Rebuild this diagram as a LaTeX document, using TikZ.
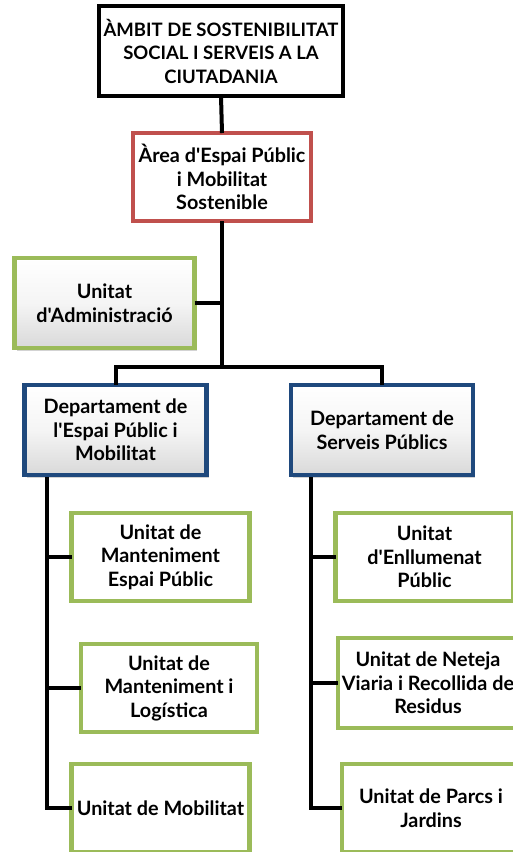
\documentclass[tikz,border=0pt]{standalone}
\usepackage{fontspec}
\setmainfont{Lato}[Ligatures=TeXOff]
\usetikzlibrary{shadows}
\definecolor{redb}{HTML}{C0504D}
\definecolor{greenb}{HTML}{9BBB59}
\definecolor{blueb}{HTML}{1F497D}
\tikzset{
  box/.style={rectangle, line width=4.5pt, align=center, inner sep=1pt, outer sep=0pt,
    font=\fontsize{19.8}{23.5}\selectfont\bfseries, text=black, fill=white},
  topbox/.style={box, draw=black, font=\fontsize{18.5}{23.5}\selectfont\bfseries,
    drop shadow={shadow xshift=2pt, shadow yshift=-2pt, opacity=0.3}},
  areabox/.style={box, draw=redb},
  gradbox/.style={box, top color=white, bottom color=black!15, middle color=white!96!black,
    drop shadow={shadow xshift=2pt, shadow yshift=-3pt, opacity=0.35}},
  adminbox/.style={gradbox, draw=greenb},
  deptbox/.style={gradbox, draw=blueb},
  unitbox/.style={box, draw=greenb},
  conn/.style={line width=4pt, draw=black}
}
\begin{document}
\begin{tikzpicture}[x=1pt,y=-1pt]
\useasboundingbox (0,0) rectangle (513,852);
% nodes
\node[topbox, minimum width=244pt, minimum height=90pt] (top) at (221,51) {ÀMBIT DE SOSTENIBILITAT\\SOCIAL I SERVEIS A LA\\CIUTADANIA};
\node[areabox, minimum width=178pt, minimum height=88pt] (area) at (222,177) {Àrea d'Espai Públic\\i Mobilitat\\Sostenible};
\node[adminbox, minimum width=180pt, minimum height=90pt] (admin) at (104.5,303) {Unitat\\d'Administració};
\node[deptbox, minimum width=182pt, minimum height=90pt] (dleft) at (115.5,430) {Departament de\\l'Espai Públic i\\Mobilitat};
\node[deptbox, minimum width=182pt, minimum height=90pt] (dright) at (382,430) {Departament de\\Serveis Públics};
\node[unitbox, minimum width=178pt, minimum height=88pt] (L1) at (160.5,557) {Unitat de\\Manteniment\\Espai Públic};
\node[unitbox, minimum width=176pt, minimum height=88pt] (L2) at (169,688) {Unitat de\\Manteniment i\\Logística};
\node[unitbox, minimum width=178pt, minimum height=88pt] (L3) at (160.5,808) {Unitat de Mobilitat};
\node[unitbox, minimum width=178pt, minimum height=88pt] (R1) at (424.5,557) {Unitat\\d'Enllumenat\\Públic};
\node[unitbox, minimum width=180pt, minimum height=90pt] (R2) at (428,683) {Unitat de Neteja\\Viaria i Recollida de\\Residus};
\node[unitbox, minimum width=178pt, minimum height=88pt] (R3) at (431,808) {Unitat de Parcs i\\Jardins};
% helper coordinates
\coordinate (bar) at (222,367);
\coordinate (spl) at (47,477);
\coordinate (spr) at (311,477);
% connectors
\draw[conn] (top.south) -- (area.north);
\draw[conn] (area.south) -- (bar);
\draw[conn] (admin.east) -- (admin.east -| bar);
\draw[conn] (dleft.north) |- (bar) -| (dright.north);
\draw[conn] (spl) |- (L3.west);
\draw[conn] (L1.west -| spl) -- (L1.west);
\draw[conn] (L2.west -| spl) -- (L2.west);
\draw[conn] (spr) |- (R3.west);
\draw[conn] (R1.west -| spr) -- (R1.west);
\draw[conn] (R2.west -| spr) -- (R2.west);
\end{tikzpicture}
\end{document}
